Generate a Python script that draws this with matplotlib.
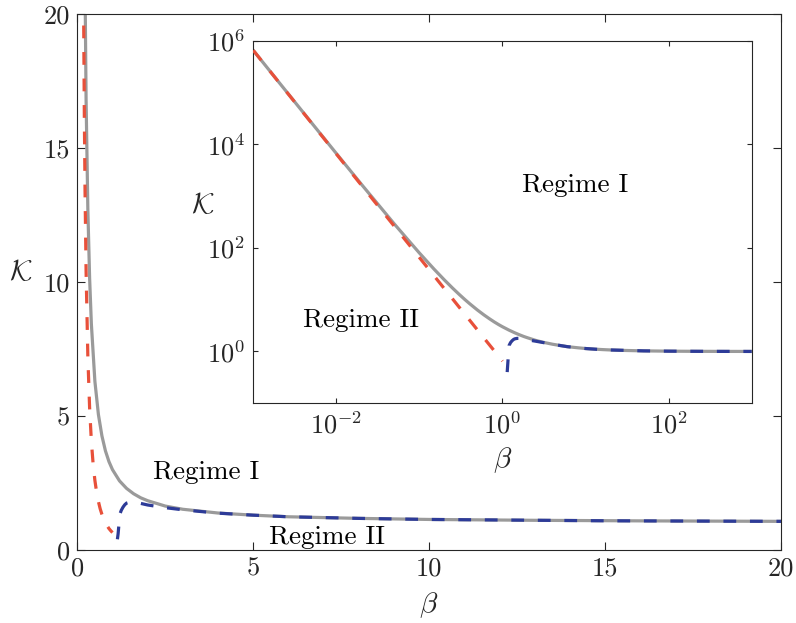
import matplotlib
matplotlib.use("Agg")
import matplotlib.pyplot as plt

plt.rcParams["font.family"] = "cmr10"
plt.rcParams["mathtext.fontset"] = "cm"
plt.rcParams["mathtext.default"] = "rm"
plt.rcParams["axes.unicode_minus"] = False

# -------------------------
# DATA
# -------------------------
# full K(beta), grey solid
beta_full = [0.001, 0.002, 0.005, 0.01, 0.02, 0.05, 0.1, 0.15, 0.2, 0.25, 0.3, 0.35,
             0.4, 0.5, 0.6, 0.7, 0.8, 0.9, 1.0, 1.2, 1.4, 1.6, 1.8, 2.0, 2.5, 3.0,
             4.0, 5.0, 6.0, 8.0, 10.0, 13.0, 16.0, 20.0, 30.0, 50.0, 100.0, 200.0,
             500.0, 1000.0]
k_full = [6.51e5, 1.63e5, 2.63e4, 6636, 1694, 288, 79.5, 38.9, 24.0, 16.8, 12.72, 10.16,
          8.44, 6.30, 5.06, 4.26, 3.70, 3.30, 3.00, 2.58, 2.30, 2.10, 1.95, 1.84, 1.64, 1.52,
          1.38, 1.30, 1.24, 1.18, 1.14, 1.108, 1.087, 1.069, 1.046, 1.027, 1.0136, 1.0068,
          1.0027, 1.00135]

# small-beta branch, red dashed
beta_small = [0.001, 0.01, 0.1, 0.15, 0.18, 0.2, 0.22, 0.25, 0.3, 0.35, 0.4, 0.45, 0.5,
              0.55, 0.6, 0.65, 0.7, 0.75, 0.8, 0.85, 0.9, 0.95, 1.0]
k_small = [6.5e5, 6500, 65.0, 28.9, 20.06, 16.25, 13.43, 10.4, 7.22, 5.31, 4.06, 3.21, 2.6,
           2.15, 1.81, 1.54, 1.33, 1.16, 1.02, 0.90, 0.80, 0.72, 0.65]

# large-beta branch, blue dashed
beta_large = [1.14, 1.16, 1.18, 1.2, 1.25, 1.3, 1.35, 1.4, 1.5, 1.6, 1.8, 2.0, 2.5, 3.0,
              4.0, 5.0, 6.0, 8.0, 10.0, 15.0, 20.0, 50.0, 100.0, 300.0, 1000.0]
k_large = [0.40, 0.60, 0.90, 1.30, 1.48, 1.60, 1.69, 1.75, 1.79, 1.79, 1.74, 1.68, 1.58, 1.50,
           1.375, 1.30, 1.24, 1.18, 1.14, 1.09, 1.069, 1.027, 1.0136, 1.0045, 1.00135]

main_ticks = [0, 5, 10, 15, 20]
inset_xticks = [1e-2, 1e0, 1e2]
inset_yticks = [1e0, 1e2, 1e4, 1e6]

# -------------------------
# STYLE
# -------------------------
grey = "#9a9a9a"
red = "#e8503a"
blue = "#2d3b98"
ink = "#262626"
lw = 2.3
dash = (4.0, 4.3)
fs = 19
fs_text = 19.5
fs_label = 21


def style_box(ax, length, pad):
    for s in ax.spines.values():
        s.set_color(ink)
        s.set_linewidth(0.8)
    ax.tick_params(direction="in", top=True, right=True, length=length, width=0.8,
                   colors=ink, labelsize=fs, pad=pad)
    ax.tick_params(which="minor", length=0)


fig = plt.figure(figsize=(7.96, 6.23), dpi=100)

# main panel
ax = fig.add_axes([0.0971, 0.1172, 0.884, 0.8598])
ax.plot(beta_full, k_full, color=grey, lw=lw, zorder=2)
ax.plot(beta_small, k_small, color=red, lw=lw, dashes=dash, zorder=3)
ax.plot(beta_large, k_large, color=blue, lw=lw, dashes=dash, zorder=3)
ax.set_xlim(0, 20)
ax.set_ylim(0, 20)
ax.set_xticks(main_ticks)
ax.set_yticks(main_ticks)
style_box(ax, 5.5, 5)
ax.text(0.5, -0.103, r"$\beta$", transform=ax.transAxes, ha="center", va="center",
        fontsize=fs_label, color=ink)
ax.text(-0.08, 0.517, r"$\mathcal{K}$", transform=ax.transAxes, ha="center", va="center",
        fontsize=fs_label, color=ink)
ax.text(2.14, 2.65, "Regime I", fontsize=fs_text, color="black", ha="left", va="baseline")
ax.text(5.45, 0.22, "Regime II", fontsize=fs_text, color="black", ha="left", va="baseline")

# inset, log-log
axi = fig.add_axes([0.3182, 0.3527, 0.6261, 0.582])
axi.set_facecolor("white")
axi.plot(beta_full, k_full, color=grey, lw=lw, zorder=2)
axi.plot(beta_small, k_small, color=red, lw=lw, dashes=dash, zorder=3)
axi.plot(beta_large, k_large, color=blue, lw=lw, dashes=dash, zorder=3)
axi.set_xscale("log")
axi.set_yscale("log")
axi.set_xlim(1e-3, 1e3)
axi.set_ylim(1e-1, 1e6)
axi.set_xticks(inset_xticks)
axi.set_xticklabels([r"$10^{-2}$", r"$10^{0}$", r"$10^{2}$"])
axi.set_yticks(inset_yticks)
axi.set_yticklabels([r"$10^{0}$", r"$10^{2}$", r"$10^{4}$", r"$10^{6}$"])
style_box(axi, 3.6, 6)
axi.text(0.5, -0.156, r"$\beta$", transform=axi.transAxes, ha="center", va="center",
         fontsize=fs_label, color=ink)
axi.text(-0.101, 0.544, r"$\mathcal{K}$", transform=axi.transAxes, ha="center", va="center",
         fontsize=fs_label, color=ink)
axi.text(1.73, 1200, "Regime I", fontsize=fs_text, color="black", ha="left", va="baseline")
axi.text(0.004, 3.0, "Regime II", fontsize=fs_text, color="black", ha="left", va="baseline")

fig.savefig("out.png", dpi=100)
